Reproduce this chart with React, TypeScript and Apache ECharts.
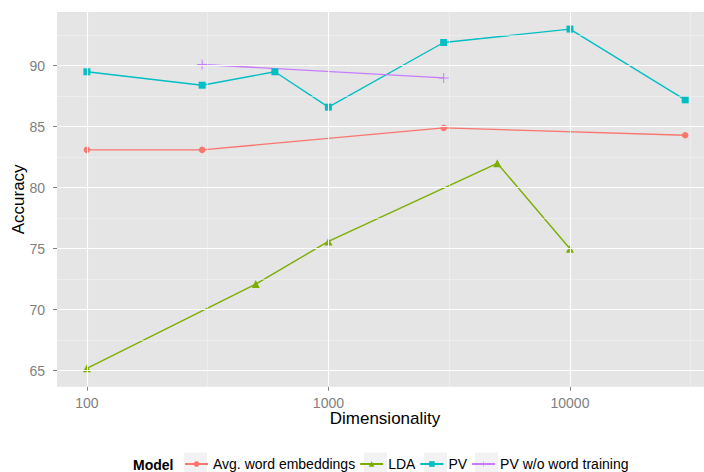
import React, { useEffect, useRef } from "react";
import * as echarts from "echarts";

const avgX = [100, 300, 3000, 30000];
const avgY = [83.1, 83.1, 84.9, 84.3];
const ldaX = [100, 500, 1000, 5000, 10000];
const ldaY = [65.2, 72.1, 75.6, 82.0, 75.0];
const pvX = [100, 300, 600, 1000, 3000, 10000, 30000];
const pvY = [89.5, 88.4, 89.5, 86.6, 91.9, 93.0, 87.2];
const pvwX = [300, 3000];
const pvwY = [90.1, 89.0];

const xTicks = [100, 1000, 10000];
const xMinor = [316.23, 3162.3, 31623];
const yTicks = [65, 70, 75, 80, 85, 90];
const yMinor = [67.5, 72.5, 77.5, 82.5, 87.5, 92.5];

const seriesNames = ["Avg. word embeddings", "LDA", "PV", "PV w/o word training"];
const colors = ["#F8766D", "#7CAE00", "#00BFC4", "#C77CFF"];

const FONT = "Liberation Sans, Arial, Helvetica, sans-serif";
const PLUS = "path://M4.5,0 L5.5,0 L5.5,4.5 L10,4.5 L10,5.5 L5.5,5.5 L5.5,10 L4.5,10 L4.5,5.5 L0,5.5 L0,4.5 L4.5,4.5 Z";

function pairs(xs: number[], ys: number[]) {
  return xs.map((x, i) => [x, ys[i]]);
}

export default function App() {
  const ref = useRef<HTMLDivElement>(null);
  useEffect(() => {
    if (!ref.current) return;
    const chart = echarts.init(ref.current, undefined, { renderer: "svg" });
    const mk = (name: string, xs: number[], ys: number[], color: string, symbol: string, size: number) => ({
      name,
      type: "line",
      data: pairs(xs, ys),
      symbol,
      symbolSize: size,
      showSymbol: true,
      lineStyle: { color, width: 1.4 },
      itemStyle: { color },
      z: 3,
    });
    const gridLines = {
      name: "grid",
      type: "line",
      data: [],
      silent: true,
      z: 1,
      markLine: {
        silent: true,
        symbol: ["none", "none"],
        label: { show: false },
        animation: false,
        data: [
          ...xMinor.map((v) => ({ xAxis: v, lineStyle: { color: "#f2f2f2", width: 0.6, type: "solid" } })),
          ...yMinor.map((v) => ({ yAxis: v, lineStyle: { color: "#f2f2f2", width: 0.6, type: "solid" } })),
          ...xTicks.map((v) => ({ xAxis: v, lineStyle: { color: "#ffffff", width: 1.1, type: "solid" } })),
          ...yTicks.map((v) => ({ yAxis: v, lineStyle: { color: "#ffffff", width: 1.1, type: "solid" } })),
        ],
      },
    };
    const legendBoxes = [184, 364, 424, 475].map((x) => ({
      type: "rect",
      shape: { x, y: 452.5, width: 23, height: 23 },
      style: { fill: "#f2f2f2" },
      z: 0,
    }));
    chart.setOption({
      animation: false,
      textStyle: { fontFamily: FONT },
      grid: {
        left: 57,
        top: 12,
        right: 0,
        bottom: 85.3,
        show: true,
        backgroundColor: "#e5e5e5",
        borderWidth: 0,
        containLabel: false,
        outerBoundsMode: "none",
      },
      xAxis: {
        type: "log",
        logBase: 10,
        min: 75.2,
        max: 35890,
        name: "Dimensionality",
        nameLocation: "middle",
        nameGap: 23,
        nameMoveOverlap: false,
        nameTextStyle: { color: "#000", fontSize: 17, fontFamily: FONT, padding: [0, 0, 0, 9] },
        axisLine: { show: false },
        axisTick: { show: true, customValues: xTicks, length: 4, lineStyle: { color: "#7f7f7f", width: 1 } },
        axisLabel: {
          customValues: xTicks,
          color: "#7f7f7f",
          fontSize: 14,
          fontFamily: FONT,
          margin: 9,
          formatter: (v: number) => String(Math.round(v)),
        },
        splitLine: { show: false },
        minorSplitLine: { show: false },
      },
      yAxis: {
        type: "value",
        min: 63.69,
        max: 94.4,
        name: "Accuracy",
        nameLocation: "middle",
        nameGap: 30,
        nameMoveOverlap: false,
        nameTextStyle: { color: "#000", fontSize: 17, fontFamily: FONT },
        axisLine: { show: false },
        axisTick: { show: true, customValues: yTicks, length: 4, lineStyle: { color: "#7f7f7f", width: 1 } },
        axisLabel: {
          customValues: yTicks,
          color: "#7f7f7f",
          fontSize: 14,
          fontFamily: FONT,
          margin: 12,
        },
        splitLine: { show: false },
      },
      legend: {
        data: seriesNames,
        left: 179,
        top: 452,
        padding: 5,
        itemWidth: 23,
        itemHeight: 7,
        itemGap: 4,
        selectedMode: false,
        textStyle: { color: "#000", fontSize: 14, fontFamily: FONT },
      },
      graphic: [
        ...legendBoxes,
        {
          type: "text",
          left: 133,
          top: 458,
          style: { text: "Model", fill: "#000", fontSize: 14, fontWeight: "bold", fontFamily: FONT },
        },
      ],
      series: [
        gridLines,
        mk(seriesNames[0], avgX, avgY, colors[0], "circle", 6.5),
        mk(seriesNames[1], ldaX, ldaY, colors[1], "triangle", 8),
        mk(seriesNames[2], pvX, pvY, colors[2], "rect", 7),
        mk(seriesNames[3], pvwX, pvwY, colors[3], PLUS, 10),
      ],
    });
    return () => chart.dispose();
  }, []);
  return <div ref={ref} style={{ width: 704, height: 472, position: "absolute", left: 0, top: 0 }} />;
}
